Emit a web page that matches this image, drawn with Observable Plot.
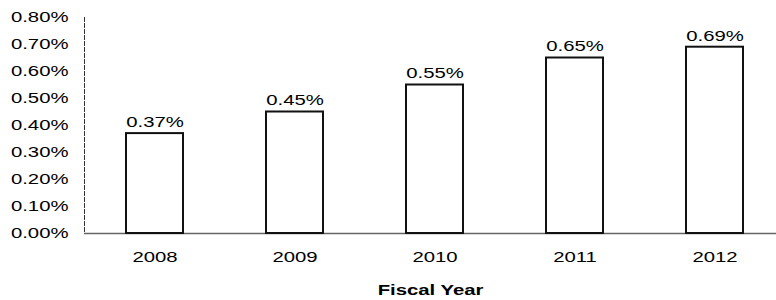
<!DOCTYPE html>
<html>
<head>
<meta charset="utf-8">
<script src="https://cdn.jsdelivr.net/npm/d3@7"></script>
<script src="https://cdn.jsdelivr.net/npm/@observablehq/plot@0.6"></script>
<style>
  body { margin: 0; background: #fff; }
</style>
</head>
<body>
<div id="chart"></div>
<script>
const years = ["2008", "2009", "2010", "2011", "2012"];
const rates = [0.37, 0.45, 0.55, 0.65, 0.69];
const yTicks = [0, 0.1, 0.2, 0.3, 0.4, 0.5, 0.6, 0.7, 0.8];

const data = years.map((y, i) => ({year: y, rate: rates[i]}));
const fmt = d => d.toFixed(2) + "%";

const chart = Plot.plot({
  width: 776,
  height: 300,
  marginLeft: 84,
  marginRight: 0,
  marginTop: 17,
  marginBottom: 67,
  style: {fontFamily: "'Liberation Sans', Arial, sans-serif", fontSize: "14px", color: "#000", background: "#fff"},
  x: {domain: years, range: [84, 785], paddingInner: 0.594, paddingOuter: 0.292},
  y: {domain: [0, 0.8]},
  marks: [
    Plot.frame({anchor: "left", stroke: "#333", strokeDasharray: "4,2", strokeWidth: 1}),
    Plot.ruleY([0], {stroke: "#666", strokeWidth: 1.5}),
    Plot.barY(data, {x: "year", y: "rate", fill: "white", stroke: "#111", strokeWidth: 2}),
    Plot.text(data, {x: "year", y: "rate", text: d => fmt(d.rate), dy: -11, fontSize: 14, fill: "#000"}),
    Plot.axisY({ticks: yTicks, tickFormat: fmt, tickSize: 0, tickPadding: 16, label: null, fontSize: 14, fill: "#000"}),
    Plot.axisX({tickSize: 0, tickPadding: 19, fontSize: 14, fill: "#000", label: "Fiscal Year", labelAnchor: "center", labelArrow: "none", labelOffset: 61})
  ]
});
document.getElementById("chart").appendChild(chart);
// bold axis label
chart.querySelectorAll("g[aria-label='x-axis label'] text").forEach(t => { t.setAttribute("font-weight", "bold"); });
// the reference typeface is horizontally stretched: widen glyphs
const stretch = 1.45;
chart.querySelectorAll("text").forEach(t => {
  const len = t.getComputedTextLength();
  if (len > 0) {
    t.setAttribute("textLength", (len * stretch).toFixed(1));
    t.setAttribute("lengthAdjust", "spacingAndGlyphs");
  }
});
</script>
</body>
</html>
